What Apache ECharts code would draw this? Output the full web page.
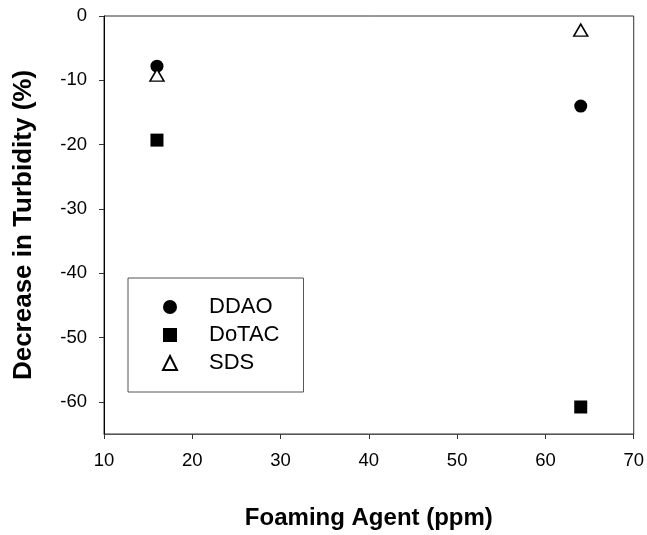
<!DOCTYPE html>
<html><head><meta charset="utf-8">
<script src="https://cdn.jsdelivr.net/npm/echarts@6/dist/echarts.min.js"></script>
<style>html,body{margin:0;padding:0;background:#fff}#c{width:647px;height:535px}</style>
</head><body><div id="c"></div>
<script>
const foamingAgent = [16, 64];
const ddao = [-7.8, -14.0];
const dotac = [-19.3, -60.8];
const sds = [-9.2, -2.2];
const yTicks = [0, -10, -20, -30, -40, -50, -60];
const xTicks = [10, 20, 30, 40, 50, 60, 70];

const FONT = "'Liberation Sans', Arial, sans-serif";
const pts = arr => foamingAgent.map((x, i) => [x, arr[i]]);

const chart = echarts.init(document.getElementById('c'), null, {renderer: 'canvas'});
chart.setOption({
  animation: false,
  backgroundColor: '#fff',
  textStyle: {fontFamily: FONT},
  grid: {left: 104, right: 11, top: 16, bottom: 99, show: true, borderColor: '#333', borderWidth: 1, backgroundColor: 'transparent'},
  legend: {
    orient: 'vertical', left: 128, top: 278,
    padding: [18, 24, 18, 34], itemGap: 6, itemWidth: 14, itemHeight: 14,
    borderColor: '#555', borderWidth: 1, selectedMode: false,
    textStyle: {fontFamily: FONT, fontSize: 22, color: '#000', padding: [0, 0, 0, 27]},
    data: ['DDAO', 'DoTAC', 'SDS']
  },
  xAxis: {
    type: 'value', min: 10, max: 70, interval: 10,
    name: 'Foaming Agent (ppm)', nameLocation: 'middle', nameGap: 72,
    nameTextStyle: {fontFamily: FONT, fontSize: 24, fontWeight: 'bold', color: '#000'},
    axisLine: {show: true, onZero: false, lineStyle: {color: '#555', width: 1}},
    axisTick: {show: true, inside: false, length: 5, lineStyle: {color: '#333'}, customValues: xTicks},
    axisLabel: {fontFamily: FONT, fontSize: 18.5, color: '#000', margin: 17, customValues: xTicks},
    splitLine: {show: false}
  },
  yAxis: {
    type: 'value', min: -65, max: 0,
    name: 'Decrease in Turbidity (%)', nameLocation: 'middle', nameGap: 67, nameRotate: 90,
    nameTextStyle: {fontFamily: FONT, fontSize: 26, fontWeight: 'bold', color: '#000'},
    axisLine: {show: true, onZero: false, lineStyle: {color: '#000', width: 1}},
    axisTick: {show: true, inside: false, length: 5, lineStyle: {color: '#333'}, customValues: yTicks},
    axisLabel: {fontFamily: FONT, fontSize: 18.5, color: '#000', margin: 17, customValues: yTicks},
    splitLine: {show: false}
  },
  series: [
    {name: 'DDAO', type: 'scatter', symbol: 'circle', symbolSize: 13,
     itemStyle: {color: '#000', opacity: 1}, data: pts(ddao)},
    {name: 'DoTAC', type: 'scatter', symbol: 'rect', symbolSize: 13,
     itemStyle: {color: '#000', opacity: 1}, data: pts(dotac)},
    {name: 'SDS', type: 'scatter', symbol: 'triangle', symbolSize: [14, 12],
     itemStyle: {color: '#fff', borderColor: '#000', borderWidth: 1.5, opacity: 1}, data: pts(sds)}
  ]
});
</script></body></html>
